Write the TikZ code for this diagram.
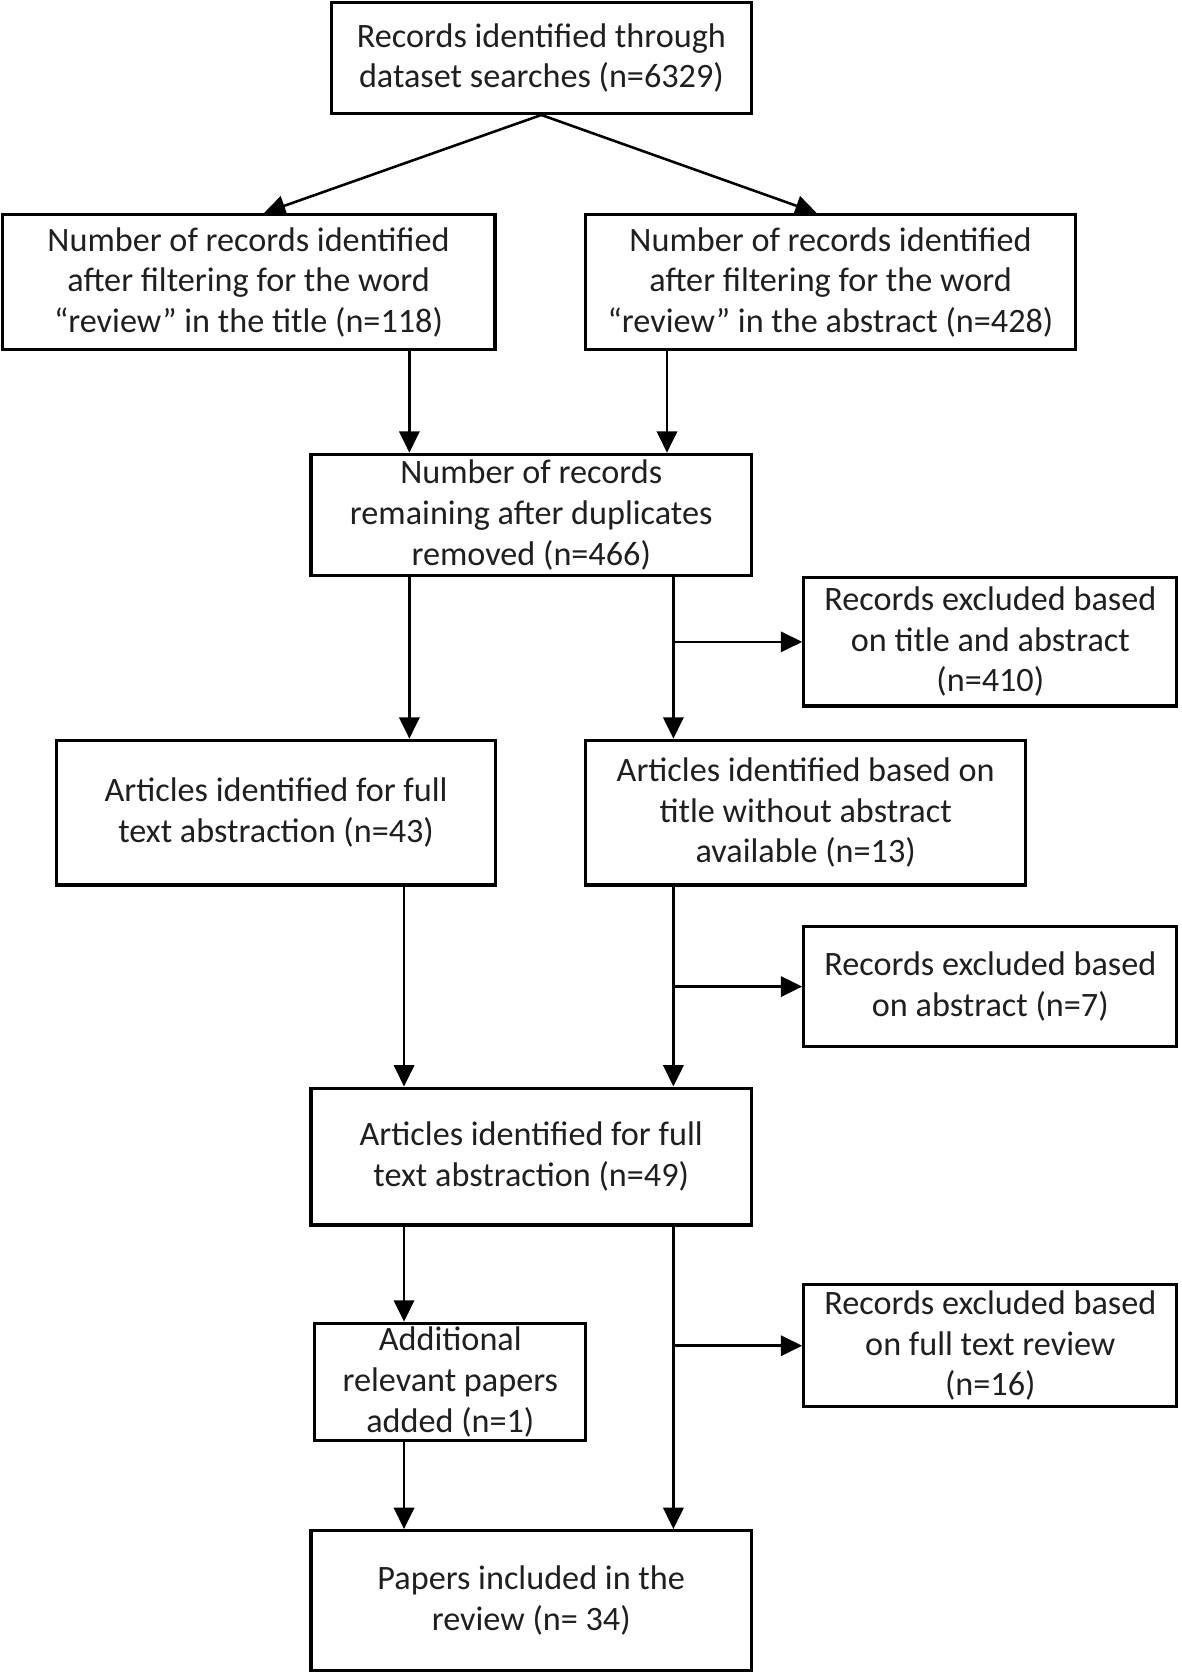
\documentclass[tikz,border=0pt]{standalone}
\usepackage{fontspec}
\setmainfont{Carlito}
\usetikzlibrary{arrows.meta}
\begin{document}
\begin{tikzpicture}[x=0.5pt,y=-0.5pt,
  box/.style={draw=black, line width=1.5pt, rectangle, inner sep=0pt, align=center,
    font=\fontsize{16}{19}\selectfont, text=black!88},
  arr/.style={line width=1.2pt, -{Triangle[length=10pt,width=9.5pt]}},
  ln/.style={line width=1.2pt}]
\useasboundingbox (0,0) rectangle (1105,1568);
\node[box, minimum width=393*0.5pt, minimum height=103.5*0.5pt] (top) at (506.5,54.3)
  {Records identified through\\dataset searches (n=6329)};
\node[box, minimum width=461*0.5pt, minimum height=126.5*0.5pt] (L1) at (232.5,264)
  {Number of records identified\\after filtering for the word\\“review” in the title (n=118)};
\node[box, minimum width=458*0.5pt, minimum height=126.5*0.5pt] (R1) at (777,264)
  {Number of records identified\\after filtering for the word\\“review” in the abstract (n=428)};
\node[box, minimum width=412*0.5pt, minimum height=113.6*0.5pt] (mid) at (497,481.8)
  {Number of records\\remaining after duplicates\\removed (n=466)};
\node[box, minimum width=349*0.5pt, minimum height=120*0.5pt] (ex1) at (926.5,600.5)
  {Records excluded based\\on title and abstract\\(n=410)};
\node[box, minimum width=410.6*0.5pt, minimum height=135.5*0.5pt] (LA) at (258.3,760.3)
  {Articles identified for full\\text abstraction (n=43)};
\node[box, minimum width=411.6*0.5pt, minimum height=135.5*0.5pt] (RA) at (753.8,760.3)
  {Articles identified based on\\title without abstract\\available (n=13)};
\node[box, minimum width=349*0.5pt, minimum height=112*0.5pt] (ex2) at (926.5,923)
  {Records excluded based\\on abstract (n=7)};
\node[box, minimum width=412*0.5pt, minimum height=128*0.5pt] (M49) at (497,1082)
  {Articles identified for full\\text abstraction (n=49)};
\node[box, minimum width=253.5*0.5pt, minimum height=110*0.5pt] (add) at (421.3,1293)
  {Additional\\relevant papers\\added (n=1)};
\node[box, minimum width=349*0.5pt, minimum height=114*0.5pt] (ex3) at (926.5,1259)
  {Records excluded based\\on full text review\\(n=16)};
\node[box, minimum width=412*0.5pt, minimum height=130.6*0.5pt] (fin) at (497,1497.3)
  {Papers included in the\\review (n= 34)};
% columns
\coordinate (c1) at (247,0);
\coordinate (c2) at (764,0);
\coordinate (c3) at (383,0);
\coordinate (c4) at (624,0);
\coordinate (cL) at (378,0);
\coordinate (cR) at (630,0);
% arrows
\draw[arr] (top.south) -- (L1.north -| c1);
\draw[arr] (top.south) -- (R1.north -| c2);
\draw[arr] (L1.south -| c3) -- (mid.north -| c3);
\draw[arr] (R1.south -| c4) -- (mid.north -| c4);
\draw[arr] (mid.south -| c3) -- (LA.north -| c3);
\draw[arr] (mid.south -| cR) -- (RA.north -| cR);
\draw[arr] (ex1.west -| cR) -- (ex1.west);
\draw[arr] (LA.south -| cL) -- (M49.north -| cL);
\draw[arr] (RA.south -| cR) -- (M49.north -| cR);
\draw[arr] (ex2.west -| cR) -- (ex2.west);
\draw[arr] (M49.south -| cL) -- (add.north -| cL);
\draw[arr] (M49.south -| cR) -- (fin.north -| cR);
\draw[arr] (ex3.west -| cR) -- (ex3.west);
\draw[arr] (add.south -| cL) -- (fin.north -| cL);
\end{tikzpicture}
\end{document}
